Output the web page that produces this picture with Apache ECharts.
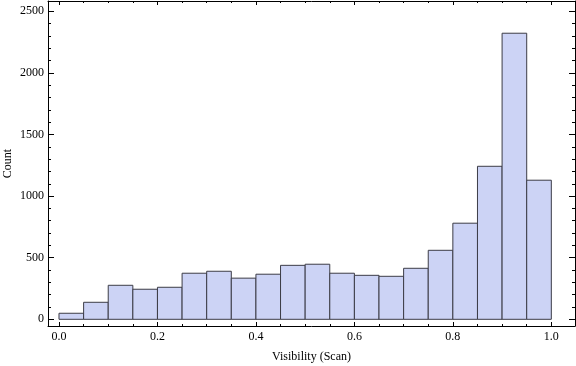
<!DOCTYPE html>
<html>
<head>
<meta charset="utf-8">
<script src="https://cdn.jsdelivr.net/npm/echarts@6/dist/echarts.min.js"></script>
<style>
  html, body { margin: 0; padding: 0; background: #fff; }
  #chart { width: 576px; height: 366px; }
</style>
</head>
<body>
<div id="chart"></div>
<script>
// bin edges (Visibility) and counts per bin
var binStart = [0.00, 0.05, 0.10, 0.15, 0.20, 0.25, 0.30, 0.35, 0.40, 0.45,
                0.50, 0.55, 0.60, 0.65, 0.70, 0.75, 0.80, 0.85, 0.90, 0.95];
var binEnd   = [0.05, 0.10, 0.15, 0.20, 0.25, 0.30, 0.35, 0.40, 0.45, 0.50,
                0.55, 0.60, 0.65, 0.70, 0.75, 0.80, 0.85, 0.90, 0.95, 1.00];
var counts   = [49, 138, 276, 244, 260, 374, 390, 334, 366, 438,
                447, 374, 357, 349, 414, 560, 780, 1242, 2322, 1129];

var xMajor = [0, 0.2, 0.4, 0.6, 0.8, 1.0];
var xMinor = [0.05, 0.1, 0.15, 0.25, 0.3, 0.35, 0.45, 0.5, 0.55, 0.65, 0.7, 0.75, 0.85, 0.9, 0.95];
var yMajor = [0, 500, 1000, 1500, 2000, 2500];
var yMinor = [100, 200, 300, 400, 600, 700, 800, 900, 1100, 1200, 1300, 1400,
              1600, 1700, 1800, 1900, 2100, 2200, 2300, 2400];

var chart = echarts.init(document.getElementById('chart'));

var font = { fontFamily: 'Liberation Serif', fontSize: 12, color: '#000' };

function xAx(pos, ticks, len, showLine, labels) {
  return {
    type: 'value', position: pos, min: -0.02234, max: 1.0481,
    splitLine: { show: false },
    axisLine: { show: showLine, onZero: false, lineStyle: { color: '#000', width: 1 } },
    axisTick: { show: true, inside: true, length: len, customValues: ticks, lineStyle: { color: '#000' } },
    axisLabel: labels ? Object.assign({ show: true, margin: 5, customValues: xMajor,
      formatter: function (v) { return v.toFixed(1); } }, font) : { show: false },
    name: labels ? 'Visibility (Scan)' : '',
    nameLocation: 'middle', nameGap: 25, nameMoveOverlap: false,
    nameTextStyle: font
  };
}
function yAx(pos, ticks, len, showLine, labels) {
  return {
    type: 'value', position: pos, min: -54.4, max: 2583.6,
    splitLine: { show: false },
    axisLine: { show: showLine, onZero: false, lineStyle: { color: '#000', width: 1 } },
    axisTick: { show: true, inside: true, length: len, customValues: ticks, lineStyle: { color: '#000' } },
    axisLabel: labels ? Object.assign({ show: true, margin: 4, customValues: yMajor,
      formatter: function (v) { return String(v); } }, font) : { show: false },
    name: labels ? 'Count' : '',
    nameLocation: 'middle', nameGap: 34, nameMoveOverlap: false,
    nameTextStyle: font
  };
}

var data = counts.map(function (c, i) { return [binStart[i], binEnd[i], c]; });

var option = {
  backgroundColor: '#fff',
  animation: false,
  grid: { left: 48, right: 1, top: 1, bottom: 40, containLabel: false, outerBoundsMode: 'none' },
  xAxis: [
    xAx('bottom', xMajor, 4, true, true),
    xAx('bottom', xMinor, 2, false, false),
    xAx('top', xMajor, 4, true, false),
    xAx('top', xMinor, 2, false, false)
  ],
  yAxis: [
    yAx('left', yMajor, 6, true, true),
    yAx('left', yMinor, 3, false, false),
    yAx('right', yMajor, 6, true, false),
    yAx('right', yMinor, 3, false, false)
  ],
  series: [{
    type: 'custom',
    xAxisIndex: 0,
    yAxisIndex: 0,
    data: data,
    renderItem: function (params, api) {
      var p0 = api.coord([api.value(0), api.value(2)]);
      var p1 = api.coord([api.value(1), 0]);
      return {
        type: 'rect',
        shape: { x: p0[0], y: p0[1], width: p1[0] - p0[0], height: p1[1] - p0[1] },
        style: { fill: '#ccd3f5', stroke: '#3c3c46', lineWidth: 1 }
      };
    }
  }]
};
chart.setOption(option);
</script>
</body>
</html>
